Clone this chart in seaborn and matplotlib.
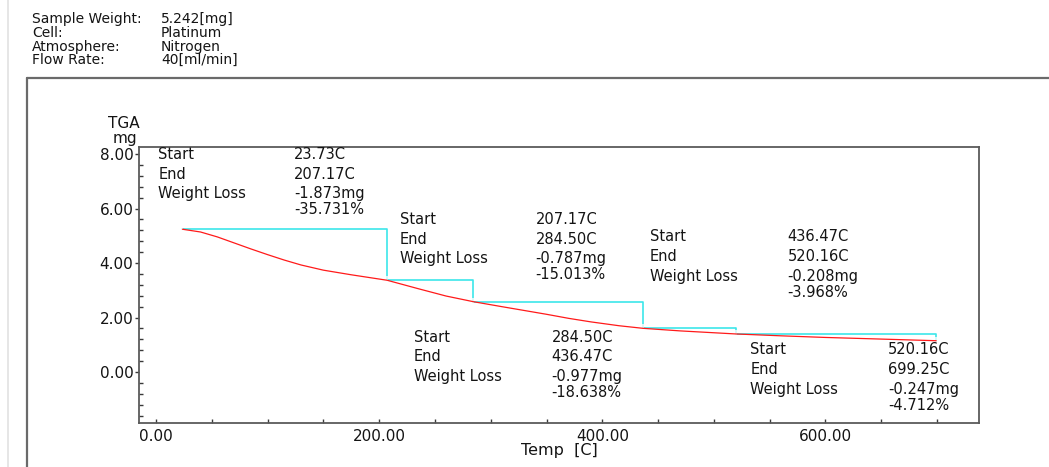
import matplotlib
matplotlib.use("Agg")
import matplotlib.pyplot as plt
from matplotlib.lines import Line2D
from matplotlib.ticker import MultipleLocator, FormatStrFormatter
import pandas as pd
import seaborn as sns

# ── data ─────────────────────────────────────────────────────
temp_c = [23.73, 40, 55, 70, 85, 100, 115, 130, 150, 175, 207.17, 235, 260,
          284.50, 310, 330, 350, 370, 390, 415, 436.47, 470, 520.16, 560,
          600, 650, 699.25]
weight_mg = [5.242, 5.14, 4.96, 4.74, 4.52, 4.31, 4.11, 3.93, 3.74, 3.57,
             3.369, 3.06, 2.79, 2.582, 2.40, 2.26, 2.12, 1.97, 1.84, 1.70,
             1.605, 1.51, 1.397, 1.33, 1.27, 1.21, 1.150]

# step analysis (start temperatures + final end, weight level at each)
step_temp = [23.73, 207.17, 284.50, 436.47, 520.16, 699.25]
step_level = [5.242, 3.369, 2.582, 1.605, 1.397, 1.150]

seg_start = ["23.73C", "207.17C", "284.50C", "436.47C", "520.16C"]
seg_end = ["207.17C", "284.50C", "436.47C", "520.16C", "699.25C"]
seg_loss_mg = ["-1.873mg", "-0.787mg", "-0.977mg", "-0.208mg", "-0.247mg"]
seg_loss_pct = ["-35.731%", "-15.013%", "-18.638%", "-3.968%", "-4.712%"]

header_keys = ["Sample Weight:", "Cell:", "Atmosphere:", "Flow Rate:"]
header_vals = ["5.242[mg]", "Platinum", "Nitrogen", "40[ml/min]"]

# where each result block sits: (label x, first row y, value x) in data units
block_pos = [(2.1, 7.99, 123.6), (218.5, 5.61, 340.3), (231.0, 1.28, 354.5),
             (442.5, 4.97, 566.0), (532.6, 0.81, 656.0)]
row_off = [0, 0.727, 1.45, 2.04]

# ── figure setup ─────────────────────────────────────────────
sns.set_style("white")
plt.rcParams["font.family"] = ["DejaVu Sans"]
txt = "#141414"
W, H = 1049, 467

fig = plt.figure(figsize=(W / 100, H / 100), dpi=100)
ax = fig.add_axes([139 / W, 1 - 423 / H, 840 / W, 276 / H])

df_curve = pd.DataFrame({"Temp": temp_c, "Weight": weight_mg})
df_step = pd.DataFrame({"Temp": step_temp, "Weight": step_level})

sns.lineplot(data=df_step, x="Temp", y="Weight", ax=ax, color="#3ce6ea",
             linewidth=1.2, drawstyle="steps-post", estimator=None,
             sort=False, marker="|", markersize=6, markeredgewidth=1.1)
sns.lineplot(data=df_curve, x="Temp", y="Weight", ax=ax, color="#ff1a1a",
             linewidth=0.9, estimator=None, sort=False)

ax.set_xlim(-15.2, 737.6)
ax.set_ylim(-1.87, 8.26)
ax.xaxis.set_major_locator(MultipleLocator(200))
ax.xaxis.set_minor_locator(MultipleLocator(50))
ax.yaxis.set_major_locator(MultipleLocator(2))
ax.yaxis.set_minor_locator(MultipleLocator(0.4))
ax.xaxis.set_major_formatter(FormatStrFormatter("%.2f"))
ax.yaxis.set_major_formatter(FormatStrFormatter("%.2f"))
ax.set_xlabel("")
ax.set_ylabel("")

for sp in ax.spines.values():
    sp.set_color("#5a5a5a")
    sp.set_linewidth(1.3)

ax.tick_params(axis="x", which="both", direction="in", length=3, width=1,
               color="#3a3a3a", labelsize=11, labelcolor=txt, pad=4,
               bottom=True)
ax.tick_params(axis="y", which="major", direction="out", length=3, width=1,
               color="#3a3a3a", labelsize=11, labelcolor=txt, pad=1,
               left=True)
ax.tick_params(axis="y", which="minor", direction="in", length=3, width=1,
               color="#3a3a3a", left=True)

# ── result blocks ────────────────────────────────────────────
row_names = ["Start", "End", "Weight Loss"]
for i, (lx, ly, vx) in enumerate(block_pos):
    values = [seg_start[i], seg_end[i], seg_loss_mg[i], seg_loss_pct[i]]
    for r, name in enumerate(row_names):
        ax.text(lx, ly - row_off[r], name, fontsize=10.5, color=txt,
                ha="left", va="center")
    for r, val in enumerate(values):
        ax.text(vx, ly - row_off[r], val, fontsize=10.5, color=txt,
                ha="left", va="center")

# ── axis titles ──────────────────────────────────────────────
fig.text(124 / W, 1 - 124 / H, "TGA", fontsize=11, color=txt,
         ha="center", va="center")
fig.text(124.5 / W, 1 - 139 / H, "mg", fontsize=11, color=txt,
         ha="center", va="center")
fig.text(559 / W, 1 - 450 / H, "Temp  [C]", fontsize=11.5, color=txt,
         ha="center", va="center")

# ── instrument header ────────────────────────────────────────
header_y = [19.5, 33.0, 46.5, 60.0]
for k, v, y in zip(header_keys, header_vals, header_y):
    fig.text(32 / W, 1 - y / H, k, fontsize=10, color=txt, ha="left",
             va="center")
    fig.text(161 / W, 1 - y / H, v, fontsize=10, color=txt, ha="left",
             va="center")

# window frame lines around the plot panel
fig.add_artist(Line2D([8 / W, 8 / W], [0, 1], color="#e2e2e2", lw=1.2))
fig.add_artist(Line2D([27 / W, 27 / W], [0, 1 - 78 / H], color="#6a6a6a",
                      lw=1.6))
fig.add_artist(Line2D([27 / W, 1], [1 - 78 / H, 1 - 78 / H], color="#6a6a6a",
                      lw=1.6))

fig.savefig("out.png", dpi=100)
plt.close(fig)
